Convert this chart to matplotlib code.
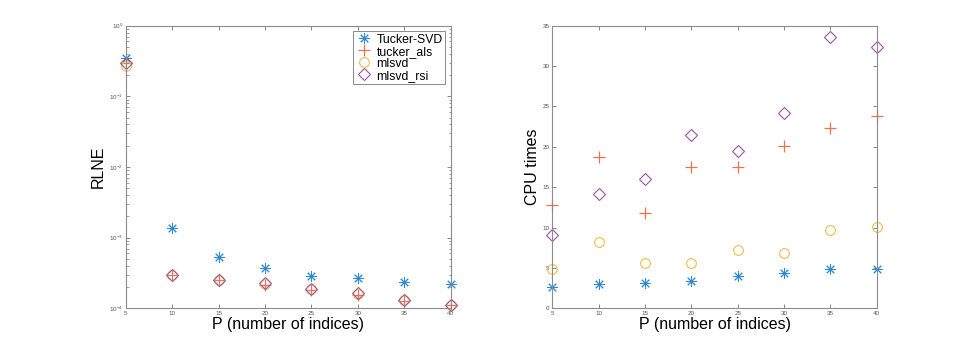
import matplotlib
matplotlib.use("Agg")
import matplotlib.pyplot as plt
from matplotlib.ticker import LogLocator, NullFormatter

plt.rcParams['font.family'] = ['Liberation Sans', 'DejaVu Sans']

P = [5, 10, 15, 20, 25, 30, 35, 40]

rlne_tucker_svd = [0.345, 1.355e-3, 5.38e-4, 3.72e-4, 2.87e-4, 2.69e-4, 2.36e-4, 2.21e-4]
rlne_tucker_als = [0.293, 2.93e-4, 2.51e-4, 2.14e-4, 1.82e-4, 1.55e-4, 1.28e-4, 1.10e-4]
rlne_mlsvd = [0.272, 2.93e-4, 2.51e-4, 2.20e-4, 1.85e-4, 1.58e-4, 1.30e-4, 1.11e-4]
rlne_mlsvd_rsi = [0.300, 2.93e-4, 2.55e-4, 2.30e-4, 1.88e-4, 1.66e-4, 1.32e-4, 1.11e-4]

cpu_tucker_svd = [2.68, 3.0, 3.1, 3.4, 4.0, 4.4, 4.87, 4.83]
cpu_tucker_als = [12.8, 18.7, 11.76, 17.46, 17.46, 20.1, 22.3, 23.77]
cpu_mlsvd = [4.87, 8.2, 5.57, 5.57, 7.18, 6.9, 9.7, 10.1]
cpu_mlsvd_rsi = [9.08, 14.1, 16.05, 21.5, 19.44, 24.2, 33.6, 32.4]

labels = ['Tucker-SVD', 'tucker_als', 'mlsvd', 'mlsvd_rsi']
colors = ['#2a8ad4', '#e8744a', '#f0be48', '#9a55a8']
markers = ['*', '+', 'o', 'D']
xticks = [5, 10, 15, 20, 25, 30, 35, 40]

fig = plt.figure(figsize=(9.69, 3.46), dpi=100)
ax1 = fig.add_axes([0.1297, 0.109, 0.3354, 0.8168])
ax2 = fig.add_axes([0.570, 0.109, 0.3348, 0.8168])

def draw(ax, series):
    for ys, lab, c, m in zip(series, labels, colors, markers):
        if m == '*':
            ax.plot(P, ys, linestyle='none', marker=(8, 2, 0), markersize=7.5,
                    markeredgecolor=c, markeredgewidth=0.7, color=c, label=lab, clip_on=False)
        elif m == '+':
            ax.plot(P, ys, linestyle='none', marker='+', markersize=8,
                    markeredgecolor=c, markeredgewidth=0.9, color=c, label=lab, clip_on=False)
        elif m == 'o':
            ax.plot(P, ys, linestyle='none', marker='o', markersize=7,
                    markerfacecolor='none', markeredgecolor=c, markeredgewidth=0.8,
                    label=lab, clip_on=False)
        else:
            ax.plot(P, ys, linestyle='none', marker='D', markersize=6,
                    markerfacecolor='none', markeredgecolor=c, markeredgewidth=0.8,
                    label=lab, clip_on=False)
    ax.set_xlim(5, 40)
    ax.set_xticks(xticks)
    ax.set_xlabel('P (number of indices)', fontsize=11.5, labelpad=1)
    for s in ax.spines.values():
        s.set_color('#8c8c8c')
        s.set_linewidth(0.8)
    ax.tick_params(direction='in', top=True, right=True, labelsize=4.5,
                   colors='#555555', length=3, width=0.5, pad=2)
    ax.tick_params(which='minor', direction='in', top=True, right=True,
                   length=1.8, width=0.4, colors='#555555')

draw(ax1, [rlne_tucker_svd, rlne_tucker_als, rlne_mlsvd, rlne_mlsvd_rsi])
ax1.set_yscale('log')
ax1.set_ylim(1e-4, 1)
ax1.yaxis.set_major_locator(LogLocator(base=10, numticks=10))
ax1.yaxis.set_minor_locator(LogLocator(base=10, subs=range(2, 10), numticks=20))
ax1.yaxis.set_minor_formatter(NullFormatter())
ax1.set_ylabel('RLNE', fontsize=11.5, labelpad=2)
leg = ax1.legend(loc='upper right', fontsize=8.8, frameon=True, fancybox=False,
                 borderpad=0.2, labelspacing=0.0, handletextpad=0.4, handlelength=1.3,
                 borderaxespad=0.45)
leg.get_frame().set_edgecolor('#555555')
leg.get_frame().set_linewidth(0.6)

draw(ax2, [cpu_tucker_svd, cpu_tucker_als, cpu_mlsvd, cpu_mlsvd_rsi])
ax2.set_ylim(0, 35)
ax2.set_yticks([0, 5, 10, 15, 20, 25, 30, 35])
ax2.set_ylabel('CPU times', fontsize=11.5, labelpad=2)

fig.savefig('out.png', dpi=100)
